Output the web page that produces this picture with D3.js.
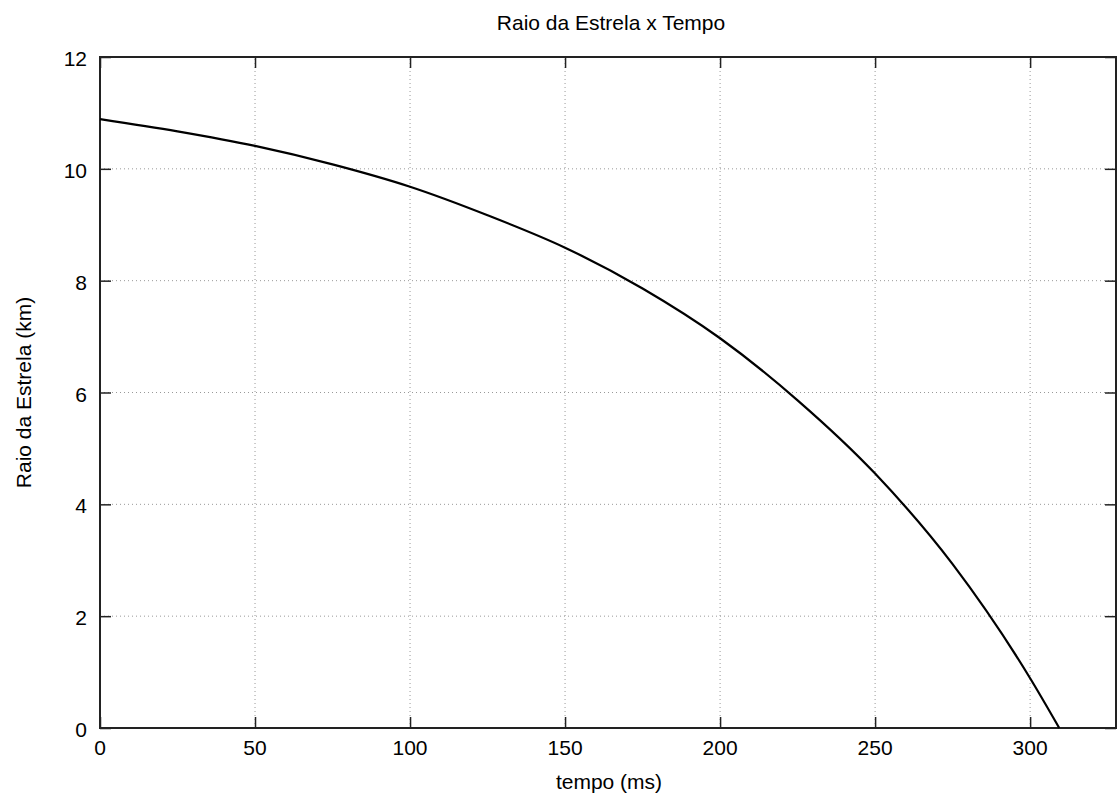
<!DOCTYPE html>
<html>
<head>
<meta charset="utf-8">
<script src="https://cdn.jsdelivr.net/npm/d3@7"></script>
<style>
  body { margin: 0; background: #fff; }
  text { font-family: "Liberation Sans", Arial, sans-serif; fill: #000; }
</style>
</head>
<body>
<div id="chart"></div>
<script>
// values
const tempo = [0, 25, 50, 75, 100, 125, 150, 175, 200, 225, 250, 275, 300, 309.4];
const raio = [10.89, 10.67, 10.41, 10.08, 9.68, 9.17, 8.59, 7.86, 6.97, 5.86, 4.55, 2.93, 0.89, 0.0];
const xTicks = [0, 50, 100, 150, 200, 250, 300];
const yTicks = [0, 2, 4, 6, 8, 10, 12];

const width = 1117;
const height = 801;
const margin = {top: 57, right: 1, bottom: 73, left: 100};

const svg = d3.select("#chart")
  .append("svg")
  .attr("width", width)
  .attr("height", height);

const x = d3.scaleLinear()
  .domain([0, 327.7])
  .range([margin.left, width - margin.right]);

const y = d3.scaleLinear()
  .domain([0, 12])
  .range([height - margin.bottom, margin.top]);

// dotted grid
svg.append("g")
  .selectAll("line")
  .data(xTicks.slice(1))
  .join("line")
  .attr("x1", d => x(d)).attr("x2", d => x(d))
  .attr("y1", y(0)).attr("y2", y(12))
  .attr("stroke", "#999")
  .attr("stroke-width", 1)
  .attr("stroke-dasharray", "1,3");

svg.append("g")
  .selectAll("line")
  .data(yTicks.slice(1, -1))
  .join("line")
  .attr("x1", x.range()[0]).attr("x2", x.range()[1])
  .attr("y1", d => y(d)).attr("y2", d => y(d))
  .attr("stroke", "#999")
  .attr("stroke-width", 1)
  .attr("stroke-dasharray", "1,3");

// axes, ticks pointing inward like gnuplot
const tickLen = 11;
svg.append("g")
  .attr("transform", `translate(0,${y(0)})`)
  .call(d3.axisTop(x).tickValues(xTicks).tickSize(tickLen).tickFormat(""))
  .call(g => g.select(".domain").remove());
svg.append("g")
  .attr("transform", `translate(0,${y(12)})`)
  .call(d3.axisBottom(x).tickValues(xTicks).tickSize(tickLen).tickFormat(""))
  .call(g => g.select(".domain").remove());
svg.append("g")
  .attr("transform", `translate(${x.range()[0]},0)`)
  .call(d3.axisRight(y).tickValues(yTicks).tickSize(tickLen).tickFormat(""))
  .call(g => g.select(".domain").remove());
svg.append("g")
  .attr("transform", `translate(${x.range()[1]},0)`)
  .call(d3.axisLeft(y).tickValues(yTicks).tickSize(tickLen).tickFormat(""))
  .call(g => g.select(".domain").remove());
svg.selectAll(".tick line").attr("stroke", "#222").attr("stroke-width", 1.5);

// border
svg.append("rect")
  .attr("x", x.range()[0])
  .attr("y", y(12))
  .attr("width", x.range()[1] - x.range()[0])
  .attr("height", y(0) - y(12))
  .attr("fill", "none")
  .attr("stroke", "#222")
  .attr("stroke-width", 2);

// tick labels
svg.append("g")
  .selectAll("text")
  .data(xTicks)
  .join("text")
  .attr("x", d => x(d))
  .attr("y", y(0) + 27)
  .attr("text-anchor", "middle")
  .style("font-size", "21px")
  .text(d => d);

svg.append("g")
  .selectAll("text")
  .data(yTicks)
  .join("text")
  .attr("x", x.range()[0] - 13)
  .attr("y", d => y(d) + 9)
  .attr("text-anchor", "end")
  .style("font-size", "21px")
  .text(d => d);

// titles
svg.append("text")
  .attr("x", 611)
  .attr("y", 30)
  .attr("text-anchor", "middle")
  .style("font-size", "21px")
  .text("Raio da Estrela x Tempo");

svg.append("text")
  .attr("x", 609)
  .attr("y", 789)
  .attr("text-anchor", "middle")
  .style("font-size", "21px")
  .text("tempo (ms)");

svg.append("text")
  .attr("transform", `translate(31,${(y(0) + y(12)) / 2}) rotate(-90)`)
  .attr("text-anchor", "middle")
  .style("font-size", "21px")
  .text("Raio da Estrela (km)");

// the curve
const line = d3.line()
  .x((d, i) => x(tempo[i]))
  .y(d => y(d))
  .curve(d3.curveMonotoneX);

svg.append("path")
  .datum(raio)
  .attr("d", line)
  .attr("fill", "none")
  .attr("stroke", "#000")
  .attr("stroke-width", 2.2);
</script>
</body>
</html>
